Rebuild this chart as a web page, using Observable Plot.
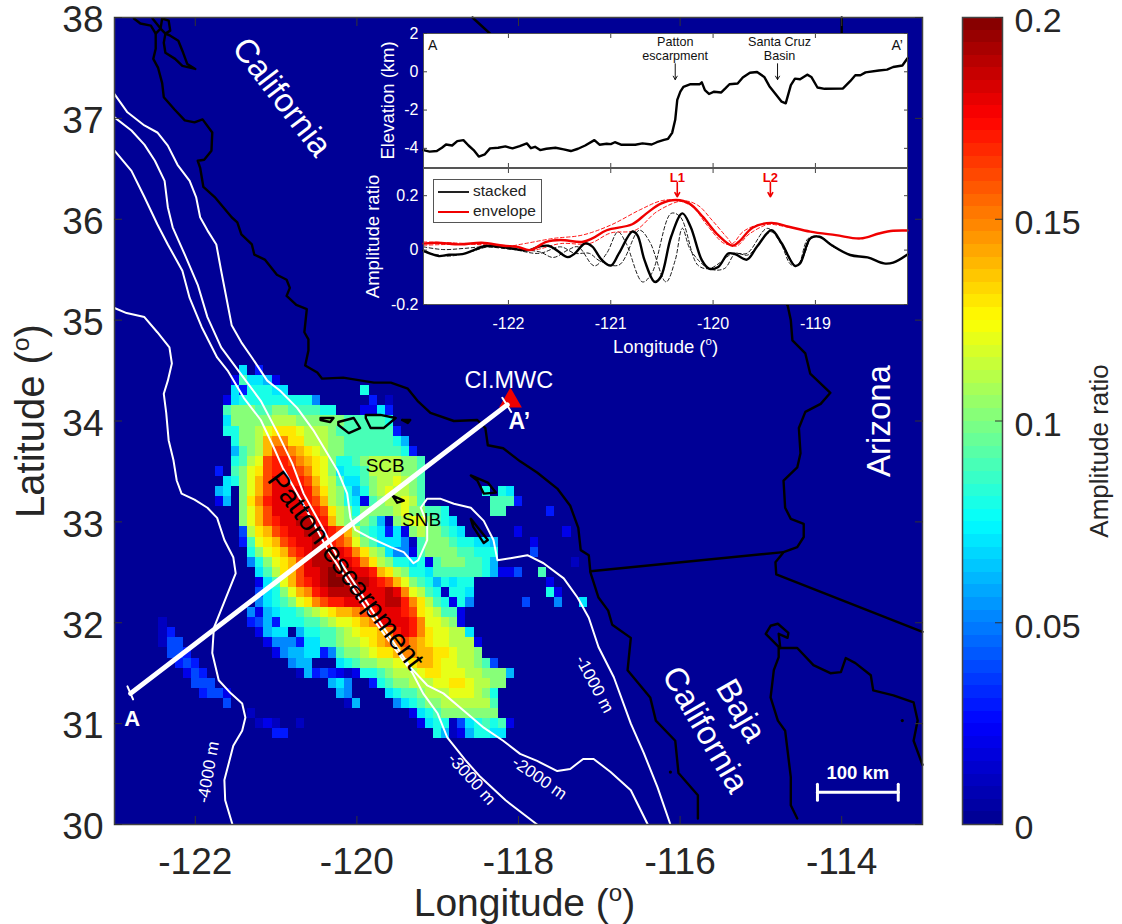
<!DOCTYPE html>
<html><head><meta charset="utf-8">
<script src="https://cdn.jsdelivr.net/npm/d3@7"></script>
<script src="https://cdn.jsdelivr.net/npm/@observablehq/plot@0.6"></script>
<style>
html,body{margin:0;padding:0;background:#fff}
#wrap{position:relative;width:1122px;height:924px;overflow:hidden;font-family:"Liberation Sans",Arial,sans-serif}
#wrap svg{position:absolute;background:transparent;overflow:visible}
#legend{position:absolute;left:433px;top:179px;width:107px;height:42px;background:#fff;border:1px solid #555;font-size:15.5px;color:#222}
#legend div{position:absolute;left:4px;height:20px;line-height:20px;white-space:nowrap}
#legend i{display:inline-block;width:31px;height:2px;vertical-align:middle;margin-right:4px}
</style></head><body><div id="wrap"></div>
<script>
// ---------- heat map grid: [row (0.1 deg below 38N), first col (0.1 deg east of 123W), levels in 0.01 ratio, base 21]
const heatRows = [
[35,16,"703"],[36,15,"297762"],[37,15,"7388877"],[37,31,"8"],
[38,14,"278888888885"],[38,32,"3"],[38,34,"1"],
[39,14,"9aaa99aa999988"],[39,31,"2273"],
[40,14,"7aaaaabbbaaaaaa999998"],
[41,14,"88aabcdddcbbba99999993"],
[42,15,"8aabeffddbbbaa99999986"],
[43,15,"69abeggfedcbaa999999983"],
[44,15,"89bcghhgfedca889abbbbaa9"],
[45,13,"3"],[45,15,"9acdghhhgfdca7889bbbbaa9"],
[46,14,"78acegihhhgecb9779abbcba9"],
[47,13,"670acegiiiihfdba868abcbba9"],[47,46,"8087"],
[48,13,"260adfhiiiihgeba8729abbcb9"],[48,47,"9993"],
[49,16,"acegiiiiihgdba8aaaabcaa998"],[49,47,"99"],[49,54,"3"],
[50,16,"aceghiijjiheba9a961abcca987"],
[51,16,"4bdeghiijjihgeb987372abaa987"],[51,50,"2"],[51,56,"2"],
[52,16,"39cdeghiijihgfca9777519aaa988776"],[52,52,"2"],
[53,17,"8acdeghijjiihfdba75529aaaa99888"],[53,52,"4"],
[54,17,"58acdegijjjiihfdba887829aaa9986"],[54,57,"1"],
[55,18,"79bdegiijkjjiihedba88799999986224"],[55,53,"9"],
[56,18,"279ceghijkkjjjihgeca9868788"],[56,54,"2"],
[57,18,"478acefhijjjjiiijifcb981887"],[57,54,"82"],
[58,18,"5789acdfghhiiiiijjhfdb98285"],[58,51,"4"],[58,55,"5"],[58,58,"7"],
[59,17,"5267889abcdeefghiiihgdcb992"],
[60,6,"1"],[60,17,"346388899abccdefiiiihfccba2"],
[61,6,"13"],[61,18,"2677068899abcddefhihfdccbb7"],
[62,6,"144"],[62,19,"255537799abbcdeffgfedccbbb2"],
[63,7,"443"],[63,20,"256677359aabcddeffeeddcbba"],
[64,8,"343"],[64,22,"566000789aabbccdeedccbba94"],
[65,9,"243"],[65,23,"16343212889abbbcddcccbbaaa6"],
[66,10,"444"],[66,27,"675"],[66,32,"389aabbbccddcbbaa"],
[67,11,"3442"],[67,28,"65"],[67,34,"7899abbbcccba8"],
[68,14,"4"],[68,29,"16"],[68,35,"5789aabbbbbb9"],
[69,17,"1"],[69,37,"2789aaaaaaa"],
[70,18,"121"],[70,23,"1"],[70,38,"278814789892"],
[71,20,"33"],[71,40,"861268877"]
];
// ---------- map polylines [lon, lat]
const contour1000=[[-123,37.24],[-122.84,37.06],[-122.63,36.93],[-122.47,36.86],[-122.34,36.73],[-122.22,36.54],[-122.07,36.38],[-121.99,36.22],[-121.94,36.02],[-121.85,35.89],[-121.74,35.75],[-121.68,35.49],[-121.61,35.2],[-121.55,34.95],[-121.43,34.78],[-121.3,34.63],[-121.11,34.4],[-120.95,34.3],[-120.74,34.13],[-120.54,33.91],[-120.39,33.71],[-120.24,33.51],[-120.12,33.28],[-120.08,33.04],[-120.02,32.92],[-119.83,32.84],[-119.58,32.75],[-119.42,32.7],[-119.3,32.59],[-119.24,32.62],[-119.13,32.82],[-119.13,32.98],[-119.21,33.14],[-119.13,33.23],[-118.97,33.23],[-118.8,33.18],[-118.59,33.14],[-118.43,33.01],[-118.31,32.82],[-118.26,32.62],[-118.1,32.64],[-117.89,32.67],[-117.69,32.59],[-117.44,32.44],[-117.27,32.25],[-117.13,32.05],[-117.01,31.76],[-116.82,31.46],[-116.61,31],[-116.45,30.71],[-116.28,30.37],[-116.12,30]];
const contour2000=[[-123,37.01],[-122.79,36.88],[-122.63,36.74],[-122.5,36.58],[-122.38,36.38],[-122.34,36.12],[-122.28,35.92],[-122.13,35.65],[-121.97,35.35],[-121.85,35.03],[-121.68,34.73],[-121.44,34.47],[-121.19,34.2],[-120.98,33.88],[-120.8,33.58],[-120.66,33.28],[-120.41,32.92],[-120.24,32.65],[-119.81,32.12],[-119.34,31.56],[-119.13,31.38],[-118.93,31.3],[-118.68,31.13],[-118.43,30.96],[-118.19,30.83],[-117.98,30.7],[-117.77,30.63],[-117.52,30.53],[-117.36,30.55],[-117.2,30.65],[-117.07,30.65],[-116.86,30.52],[-116.61,30.34],[-116.4,30]];
const contour3000=[[-123,36.68],[-122.79,36.48],[-122.63,36.22],[-122.47,35.95],[-122.34,35.75],[-122.16,35.49],[-122.07,35.22],[-121.92,34.93],[-121.73,34.63],[-121.6,34.5],[-121.4,34.23],[-121.19,34.01],[-121.03,33.74],[-120.92,33.54],[-120.57,33.04],[-120.36,32.72],[-119.83,32.07],[-119.31,31.5],[-119.18,31.3],[-119,31.1],[-118.88,30.86],[-118.66,30.64],[-118.47,30.47],[-118.16,30.24],[-117.77,30]];
const contour4000=[[-123,35.12],[-122.85,35.07],[-122.63,35.03],[-122.47,34.88],[-122.32,34.73],[-122.29,34.57],[-122.34,34.4],[-122.39,34.27],[-122.36,34.08],[-122.33,33.81],[-122.27,33.61],[-122.23,33.41],[-122.17,33.28],[-122.01,33.22],[-121.85,33.14],[-121.73,33.04],[-121.64,32.82],[-121.53,32.65],[-121.5,32.49],[-121.65,32.19],[-121.77,31.95],[-121.79,31.7],[-121.71,31.43],[-121.56,31.3],[-121.42,31.2],[-121.38,31.06],[-121.42,30.93],[-121.53,30.78],[-121.64,30.44],[-121.63,30.24],[-121.54,30]];
const coast=[[-122.76,37.99],[-122.68,37.94],[-122.55,37.92],[-122.49,37.84],[-122.49,37.69],[-122.52,37.59],[-122.46,37.5],[-122.41,37.35],[-122.39,37.21],[-122.26,37.09],[-122.13,36.98],[-122.01,36.96],[-121.91,36.99],[-121.79,36.86],[-121.8,36.68],[-121.89,36.59],[-121.97,36.58],[-121.94,36.51],[-121.9,36.32],[-121.76,36.22],[-121.55,36.02],[-121.48,35.97],[-121.43,35.85],[-121.3,35.75],[-121.27,35.65],[-121.14,35.6],[-120.99,35.45],[-120.87,35.4],[-120.83,35.32],[-120.87,35.24],[-120.75,35.15],[-120.62,35.11],[-120.65,34.88],[-120.6,34.81],[-120.6,34.7],[-120.64,34.55],[-120.49,34.48],[-120.43,34.42],[-120.17,34.43],[-119.79,34.38],[-119.58,34.38],[-119.37,34.32],[-119.25,34.2],[-119.09,34.08],[-118.8,34],[-118.51,34.01],[-118.41,33.93],[-118.38,33.76],[-118.19,33.73],[-117.98,33.6],[-117.77,33.49],[-117.52,33.33],[-117.36,33.16],[-117.26,32.94],[-117.23,32.72],[-117.13,32.67],[-117.11,32.5],[-117.01,32.25],[-116.89,32.12],[-116.84,31.98],[-116.61,31.85],[-116.65,31.53],[-116.37,31.26],[-116.3,31.03],[-116.06,30.83],[-116.02,30.51],[-115.78,30.29],[-115.78,30.06]];
const bayShore=[[-122.41,37.99],[-122.33,37.97],[-122.31,37.87],[-122.37,37.84],[-122.39,37.75],[-122.37,37.65],[-122.25,37.59],[-122.16,37.52],[-122,37.49],[-122.1,37.54],[-122.15,37.65],[-122.21,37.77],[-122.31,37.82],[-122.37,37.84]];
const bayLinkA=[[-122.53,37.99],[-122.43,37.89],[-122.41,37.99]];
const bayLinkB=[[-122.49,37.84],[-122.43,37.89],[-122.37,37.84]];
const caBajaBorder=[[-117.11,32.51],[-114.72,32.7]];
const colorado=[[-114.67,35.15],[-114.63,35],[-114.61,34.8],[-114.45,34.67],[-114.39,34.47],[-114.14,34.28],[-114.26,34.17],[-114.45,34.09],[-114.53,33.93],[-114.51,33.68],[-114.55,33.54],[-114.72,33.41],[-114.7,33.14],[-114.63,33.03],[-114.47,32.98],[-114.47,32.85],[-114.55,32.75],[-114.72,32.7],[-114.82,32.6],[-114.81,32.48],[-113,31.91]];
const nevadaBorder=[[-118.57,38],[-114.67,35.15]];
const azNvBorder=[[-114,38],[-114,36.1]];
const bajaEast=[[-114.55,30.06],[-114.63,30.19],[-114.63,30.47],[-114.7,30.93],[-114.79,31.03],[-114.88,31.26],[-114.84,31.53],[-114.78,31.66],[-114.78,31.76],[-114.94,31.89],[-114.88,31.97],[-114.79,31.99],[-114.66,31.9],[-114.67,31.85],[-114.78,31.89],[-114.76,31.75]];
const sonoraCoast=[[-114.76,31.75],[-114.55,31.75],[-114.35,31.58],[-114.14,31.5],[-114.01,31.51],[-113.95,31.65],[-113.83,31.6],[-113.64,31.48],[-113.61,31.33],[-113.36,31.28],[-113.11,31.21],[-113.06,31.03],[-113.11,30.83],[-113,30.59]];
const islands=[
[[-120.45,34.03],[-120.29,34.03],[-120.33,33.99],[-120.45,34.01],[-120.45,34.03]],
[[-120.23,33.99],[-120.04,34.03],[-119.96,33.93],[-120.1,33.88],[-120.23,33.96],[-120.23,33.99]],
[[-119.89,34.06],[-119.71,34.06],[-119.52,34.03],[-119.67,33.93],[-119.83,33.93],[-119.89,34.03],[-119.89,34.06]],
[[-119.44,34.01],[-119.34,34.01],[-119.37,33.98],[-119.44,34.01]],
[[-119.56,33.26],[-119.42,33.21],[-119.5,33.19],[-119.56,33.26]],
[[-118.59,33.46],[-118.38,33.39],[-118.28,33.29],[-118.43,33.28],[-118.51,33.41],[-118.59,33.46]],
[[-118.59,33.03],[-118.38,32.82],[-118.43,32.79],[-118.56,32.95],[-118.59,33.03]]
];
const smallIslands=[[-116.12,30.52],[-113.25,31.03]];
const profile=[[-122.8,31.3],[-118.14,34.16]];
const profileCapA=[[-122.84,31.37],[-122.77,31.24]];
const profileCapB=[[-118.2,34.23],[-118.09,34.09]];
const station=[[-118.1,34.2]];
const scaleBar=[[-114.3,30.32],[-113.3,30.32]];
const scaleCapL=[[-114.3,30.24],[-114.3,30.4]];
const scaleCapR=[[-113.3,30.24],[-113.3,30.4]];
// ---------- inset series
const elevLon=[-122.83,-122.77,-122.7,-122.65,-122.61,-122.55,-122.5,-122.44,-122.39,-122.34,-122.29,-122.23,-122.18,-122.1,-122.03,-121.96,-121.89,-121.82,-121.78,-121.74,-121.69,-121.63,-121.54,-121.46,-121.39,-121.32,-121.25,-121.16,-121.11,-121.04,-121,-120.96,-120.9,-120.76,-120.69,-120.6,-120.55,-120.48,-120.44,-120.4,-120.37,-120.35,-120.32,-120.29,-120.22,-120.13,-120.11,-120.08,-120.04,-119.99,-119.92,-119.88,-119.84,-119.76,-119.71,-119.64,-119.57,-119.5,-119.45,-119.38,-119.33,-119.29,-119.24,-119.2,-119.15,-119.08,-119.04,-118.98,-118.91,-118.73,-118.66,-118.61,-118.56,-118.51,-118.38,-118.3,-118.24,-118.15,-118.1];
const elevKm=[-4.09,-4.17,-4.14,-3.97,-3.8,-3.85,-3.62,-3.57,-3.85,-4.09,-4.43,-4.31,-4,-3.97,-3.9,-4,-3.88,-3.74,-3.99,-3.92,-4.09,-4.02,-3.97,-4.05,-4.14,-4.02,-3.85,-3.57,-3.81,-3.76,-3.78,-3.68,-3.81,-3.81,-3.74,-3.8,-3.68,-3.56,-3.5,-3.19,-2.51,-1.47,-1.04,-0.79,-0.65,-0.65,-0.55,-0.96,-1.16,-1.04,-1.08,-0.87,-0.65,-0.61,-0.3,-0.05,-0.01,-0.27,-0.75,-1.22,-1.56,-1.65,-0.7,-0.36,-0.39,-0.15,-0.27,-0.82,-0.89,-0.87,-0.49,-0.18,-0.18,-0.03,0.07,0.11,0.25,0.33,0.71];
const stackLon=[-122.83,-122.77,-122.68,-122.58,-122.45,-122.35,-122.23,-122.1,-121.98,-121.81,-121.7,-121.61,-121.53,-121.42,-121.35,-121.25,-121.18,-121.09,-121,-120.92,-120.79,-120.74,-120.67,-120.57,-120.51,-120.41,-120.3,-120.22,-120.11,-120.04,-119.95,-119.85,-119.78,-119.67,-119.57,-119.43,-119.33,-119.2,-119.15,-119.05,-118.96,-118.84,-118.66,-118.49,-118.33,-118.24,-118.1];
const stackVal=[-0.002,-0.012,-0.022,-0.017,-0.015,-0.002,0.015,0.013,0.007,-0.001,0.013,0.016,0,-0.026,-0.012,0.025,0.013,-0.035,-0.057,-0.012,0.068,0.055,-0.037,-0.117,-0.098,0.049,0.135,0.086,-0.037,-0.068,-0.062,-0.012,-0.016,-0.035,0.013,0.073,0.025,-0.058,-0.049,0.043,0.049,0.018,-0.018,-0.027,-0.049,-0.046,-0.016];
const dashALon=[-122.83,-122.64,-122.44,-122.23,-121.95,-121.7,-121.56,-121.42,-121.32,-121.16,-121.04,-120.93,-120.85,-120.69,-120.6,-120.41,-120.32,-120.15,-120.04,-119.92,-119.81,-119.67,-119.47,-119.34,-119.24,-119.17,-119.07,-118.96,-118.84,-118.66];
const dashAVal=[0.012,0.002,0.006,0.012,0.002,-0.006,-0.027,0,0.012,-0.058,-0.012,0.067,0.025,-0.117,-0.086,0.135,0.122,-0.055,-0.068,-0.043,-0.012,-0.012,0.08,0.025,-0.053,-0.055,0.043,0.049,0.015,-0.018];
const dashBLon=[-122.83,-122.58,-122.37,-122.19,-121.95,-121.7,-121.49,-121.35,-121.21,-121.11,-120.92,-120.72,-120.62,-120.46,-120.37,-120.3,-120.22,-120.04,-119.89,-119.78,-119.66,-119.43,-119.31,-119.19,-119.12,-119.03,-118.94,-118.8];
const dashBVal=[-0.006,-0.022,-0.006,0.012,0.002,-0.012,0.012,-0.012,-0.012,-0.039,-0.055,0.073,0.031,-0.117,-0.037,0.08,0,-0.068,-0.068,-0.012,-0.018,0.067,0.012,-0.058,-0.025,0.049,0.047,0.005];
const envLon=[-122.83,-122.7,-122.47,-122.26,-122.05,-121.91,-121.79,-121.63,-121.49,-121.28,-121.18,-121.04,-120.79,-120.65,-120.51,-120.36,-120.23,-120.1,-119.95,-119.81,-119.75,-119.61,-119.43,-119.26,-119.05,-118.8,-118.56,-118.38,-118.24,-118.1];
const envVal=[0.024,0.027,0.021,0.027,0.016,0.012,0,0.03,0.037,0.03,0.043,0.073,0.095,0.135,0.171,0.184,0.171,0.122,0.055,0.016,0.03,0.083,0.1,0.086,0.068,0.055,0.043,0.061,0.071,0.072];
const envALon=[-122.83,-122.4,-122.05,-121.84,-121.56,-121.28,-121,-120.72,-120.51,-120.37,-120.2,-120.06,-119.89,-119.81,-119.71,-119.57,-119.43,-119.26];
const envAVal=[0.03,0.024,0.012,0.024,0.043,0.055,0.092,0.147,0.181,0.184,0.159,0.092,0.024,0.024,0.067,0.092,0.095,0.083];
const envBLon=[-122.83,-122.4,-122.05,-121.77,-121.49,-121.21,-121,-120.76,-120.55,-120.3,-120.15,-120.01,-119.87,-119.78,-119.64,-119.43,-119.26];
const envBVal=[0.018,0.022,0.018,0,0.024,0.024,0.063,0.073,0.141,0.181,0.165,0.11,0.049,0.014,0.061,0.098,0.086];
// ---------- ticks
const mapLonTicks=[-122,-120,-118,-116,-114];
const mapLatTicks=[30,31,32,33,34,35,36,37,38];
const barTicks=[0,0.05,0.1,0.15,0.2];
const insetLonTicks=[-122,-121,-120,-119];
const elevTicks=[-4,-2,0,2];
const ampTicks=[-0.2,0,0.2];

// jet colormap, 64 steps
const jetStops=d3.scaleLinear().domain([0,8/64,24/64,40/64,56/64,1]).range(["#00008f","#0000ff","#00ffff","#ffff00","#ff0000","#800000"]);
const jet64=d3.range(64).map(i=>d3.rgb(jetStops((i+.5)/64)).formatHex());
const colorScale={type:"threshold",domain:d3.range(1,64).map(i=>i/64*0.2),range:jet64};

const heat=[];
for(const [j,k0,s] of heatRows){[...s].forEach((c,i)=>{
  const v=parseInt(c,21)*0.01;
  if(v>0) heat.push({lon:-123+(k0+i)*0.1,lat:38-j*0.1,v});
});}
const levels=d3.range(64).map(i=>({lo:i/64*0.2,hi:(i+1)/64*0.2,v:(i+.5)/64*0.2}));

const FONT="Liberation Sans";
const INK="#262626";
const path=(a,o)=>Plot.line(a,{x:d=>d[0],y:d=>d[1],...o});
const xy=(xs,ys)=>xs.map((x,i)=>[x,ys[i]]);
const label=(t,lon,lat,o)=>Plot.text([t],{x:()=>lon,y:()=>lat,text:d=>d,lineAnchor:"middle",...o});
const WHITE={stroke:"#fff",strokeWidth:2};
const BLACK={stroke:"#000",strokeWidth:2.4,strokeLinejoin:"round"};

function frameTicks(xt,yt,len,col){
  const c={stroke:col,fill:"none",label:null,tickSize:-len};
  return [Plot.axisX(xt,{anchor:"bottom",...c}),Plot.axisX(xt,{anchor:"top",...c}),
          Plot.axisY(yt,{anchor:"left",...c}),Plot.axisY(yt,{anchor:"right",...c})];
}

const wrap=document.getElementById("wrap");
function place(svg,l,t){svg.style.left=l+"px";svg.style.top=t+"px";wrap.appendChild(svg);return svg;}

// ---------- main map
place(Plot.plot({
  width:1122,height:924,marginLeft:114,marginRight:200,marginTop:17,marginBottom:100,
  style:{fontFamily:FONT,background:"transparent"},
  x:{domain:[-123,-113]},y:{domain:[30,38]},color:colorScale,
  marks:[
    Plot.frame({fill:jet64[0],stroke:"none"}),
    Plot.rect(heat,{x1:d=>d.lon-.05,x2:d=>d.lon+.05,y1:d=>d.lat-.05,y2:d=>d.lat+.05,fill:"v",shapeRendering:"crispEdges"}),
    ...[coast,bayShore,bayLinkA,bayLinkB,caBajaBorder,colorado,nevadaBorder,azNvBorder,bajaEast,sonoraCoast].map(a=>path(a,BLACK)),
    ...islands.map(a=>path(a,BLACK)),
    Plot.dot(smallIslands,{x:d=>d[0],y:d=>d[1],r:1.6,fill:"#000"}),
    ...[contour1000,contour2000,contour3000,contour4000].map(a=>path(a,WHITE)),
    Plot.dot(station,{x:d=>d[0],y:d=>d[1],symbol:"triangle",r:8.5,fill:"#f00000"}),
    path(profile,{stroke:"#fff",strokeWidth:5}),
    path(profileCapA,{stroke:"#fff",strokeWidth:2}),
    path(profileCapB,{stroke:"#fff",strokeWidth:2}),
    path(scaleBar,{stroke:"#fff",strokeWidth:3}),
    path(scaleCapL,{stroke:"#fff",strokeWidth:3}),
    path(scaleCapR,{stroke:"#fff",strokeWidth:3}),
    label("California",-120.93,37.21,{rotate:52.5,fontSize:33,fill:"#fff"}),
    label("Arizona",-113.53,34,{rotate:-90,fontSize:33,fill:"#fff"}),
    label("Baja",-115.25,31.13,{rotate:60,fontSize:33,fill:"#fff"}),
    label("California",-115.69,30.94,{rotate:60,fontSize:33,fill:"#fff"}),
    label("Patton escarpment",-120.14,32.52,{rotate:53,fontSize:28.5,fill:"#000"}),
    label("SCB",-119.65,33.55,{fontSize:19,fill:"#000"}),
    label("SNB",-119.2,33.02,{fontSize:19,fill:"#000"}),
    label("CI.MWC",-118.12,34.4,{fontSize:23.5,fill:"#fff"}),
    label("A\u2019",-117.99,33.99,{fontSize:23,fontWeight:"bold",fill:"#fff"}),
    label("A",-122.78,31.05,{fontSize:22,fontWeight:"bold",fill:"#fff"}),
    label("-1000 m",-117.06,31.39,{rotate:62,fontSize:17,fill:"#fff"}),
    label("-2000 m",-117.74,30.46,{rotate:35,fontSize:17,fill:"#fff"}),
    label("-3000 m",-118.58,30.45,{rotate:48,fontSize:17,fill:"#fff"}),
    label("-4000 m",-121.84,30.52,{rotate:-80,fontSize:17,fill:"#fff"}),
    label("100 km",-113.8,30.51,{fontSize:18.5,fontWeight:"bold",fill:"#fff"}),
    Plot.frame({stroke:"#444",strokeWidth:1.5}),
    ...frameTicks(mapLonTicks,mapLatTicks,8,"#333"),
    Plot.axisX(mapLonTicks,{anchor:"bottom",tickSize:0,tickPadding:23,stroke:"none",fill:INK,fontSize:37,label:null,tickFormat:d=>String(d)}),
    Plot.axisY(mapLatTicks,{anchor:"left",tickSize:0,tickPadding:11,stroke:"none",fill:INK,fontSize:37,dy:3,label:null,tickFormat:d=>String(d)}),
    Plot.text(["Longitude (o)"],{frameAnchor:"bottom",dx:6,dy:91,fontSize:39,fill:INK}),
    Plot.text(["Latitude (o)"],{frameAnchor:"left",textAnchor:"middle",dx:-83,rotate:-90,fontSize:40,fill:INK})
  ]
}),0,0);

// ---------- inset: elevation
place(Plot.plot({
  width:560,height:148,marginLeft:63,marginRight:13,marginTop:13,marginBottom:1,
  style:{fontFamily:FONT,background:"transparent"},
  x:{domain:[-122.83,-118.1]},y:{domain:[-5,2]},
  marks:[
    Plot.frame({fill:"#fff",stroke:"none"}),
    Plot.line(xy(elevLon,elevKm),{x:d=>d[0],y:d=>d[1],stroke:"#000",strokeWidth:2.4}),
    label("A",-122.74,1.35,{fontSize:14,fill:"#111"}),
    label("A\u2019",-118.2,1.35,{fontSize:14,fill:"#111"}),
    Plot.text(["Patton\nescarpment"],{x:()=>-120.37,y:()=>1.2,text:d=>d,fontSize:12.6,lineHeight:1.05,fill:"#111"}),
    Plot.text(["Santa Cruz\nBasin"],{x:()=>-119.35,y:()=>1.2,text:d=>d,fontSize:12.6,lineHeight:1.05,fill:"#111"}),
    Plot.arrow([[-120.37,0.42,-0.41],[-119.37,0.42,-0.41]],{x:d=>d[0],y1:d=>d[1],y2:d=>d[2],stroke:"#111",strokeWidth:1,headLength:6}),
    Plot.frame({stroke:"#555"}),
    ...frameTicks(insetLonTicks,elevTicks,4,"#444"),
    Plot.axisY(elevTicks,{anchor:"left",tickSize:0,tickPadding:5,stroke:"none",fill:"#fff",fontSize:16,label:null,tickFormat:d=>String(d)}),
    Plot.text(["Elevation (km)"],{frameAnchor:"left",textAnchor:"middle",dx:-35,rotate:-90,fontSize:18.5,fill:"#fff"})
  ]
}),360,20);

// ---------- inset: amplitude ratio
place(Plot.plot({
  width:560,height:206,marginLeft:63,marginRight:13,marginTop:8,marginBottom:62,
  style:{fontFamily:FONT,background:"transparent"},
  x:{domain:[-122.83,-118.1]},y:{domain:[-0.2,0.3]},
  marks:[
    Plot.frame({fill:"#fff",stroke:"none"}),
    ...[[dashALon,dashAVal],[dashBLon,dashBVal]].map(([a,b])=>Plot.line(xy(a,b),{x:d=>d[0],y:d=>d[1],stroke:"#000",strokeWidth:.9,strokeDasharray:"3.5,2.5",curve:"catmull-rom"})),
    ...[[envALon,envAVal],[envBLon,envBVal]].map(([a,b])=>Plot.line(xy(a,b),{x:d=>d[0],y:d=>d[1],stroke:"#f00",strokeWidth:.9,strokeDasharray:"3.5,2.5",curve:"catmull-rom"})),
    Plot.line(xy(stackLon,stackVal),{x:d=>d[0],y:d=>d[1],stroke:"#000",strokeWidth:2.4,curve:"catmull-rom"}),
    Plot.line(xy(envLon,envVal),{x:d=>d[0],y:d=>d[1],stroke:"#f00000",strokeWidth:2.4,curve:"catmull-rom"}),
    label("L1",-120.35,0.267,{fontSize:13,fontWeight:"bold",fill:"#f00000"}),
    label("L2",-119.44,0.267,{fontSize:13,fontWeight:"bold",fill:"#f00000"}),
    Plot.arrow([[-120.35,0.248,0.196],[-119.44,0.248,0.196]],{x:d=>d[0],y1:d=>d[1],y2:d=>d[2],stroke:"#f00000",strokeWidth:1.6,headLength:7}),
    Plot.frame({stroke:"#555"}),
    ...frameTicks(insetLonTicks,ampTicks,4,"#444"),
    Plot.axisX(insetLonTicks,{anchor:"bottom",tickSize:0,tickPadding:13,stroke:"none",fill:"#fff",fontSize:16,label:null,tickFormat:d=>String(d)}),
    Plot.axisY(ampTicks,{anchor:"left",tickSize:0,tickPadding:5,stroke:"none",fill:"#fff",fontSize:16,label:null,tickFormat:d=>String(d)}),
    Plot.text(["Longitude (o)"],{frameAnchor:"bottom",dy:48,fontSize:18.5,fill:"#fff"}),
    Plot.text(["Amplitude ratio"],{frameAnchor:"left",textAnchor:"middle",dx:-50,rotate:-90,fontSize:18.5,fill:"#fff"})
  ]
}),360,160);

// ---------- colour bar
place(Plot.plot({
  width:172,height:924,marginLeft:12,marginRight:120,marginTop:17,marginBottom:100,
  style:{fontFamily:FONT,background:"transparent"},
  x:{domain:[0,1],axis:null},y:{domain:[0,0.2]},color:colorScale,
  marks:[
    Plot.rect(levels,{x1:()=>0,x2:()=>1,y1:"lo",y2:"hi",fill:"v",shapeRendering:"crispEdges"}),
    Plot.frame({stroke:"#444",strokeWidth:1.5}),
    Plot.axisY(barTicks,{anchor:"right",tickSize:-8,stroke:"#333",fill:"none",label:null}),
    Plot.axisY(barTicks,{anchor:"right",tickSize:0,tickPadding:12,stroke:"none",fill:INK,fontSize:34,dy:4,label:null,tickFormat:d=>String(d)}),
    Plot.text(["Amplitude ratio"],{frameAnchor:"right",textAnchor:"middle",dx:97,dy:30,rotate:-90,fontSize:26,fill:INK})
  ]
}),950,0);

// ---------- legend of the inset
const lg=document.createElement("div");lg.id="legend";
lg.innerHTML='<div style="top:1px"><i style="background:#222"></i>stacked</div><div style="top:21px"><i style="background:#f00000"></i>envelope</div>';
wrap.appendChild(lg);

// raised "o" in the degree labels
wrap.querySelectorAll("text").forEach(t=>{
  if(t.children.length===0&&t.textContent.endsWith("(o)")){
    const s=parseFloat(t.getAttribute("font-size"))||parseFloat(getComputedStyle(t).fontSize);
    const head=t.textContent.slice(0,-2);t.textContent=head;
    const ns=t.namespaceURI,a=document.createElementNS(ns,"tspan"),b=document.createElementNS(ns,"tspan");
    a.textContent="o";a.setAttribute("dy",-s*.38);a.setAttribute("font-size",s*.62);
    b.textContent=")";b.setAttribute("dy",s*.38);
    t.appendChild(a);t.appendChild(b);
  }
});
</script></body></html>
